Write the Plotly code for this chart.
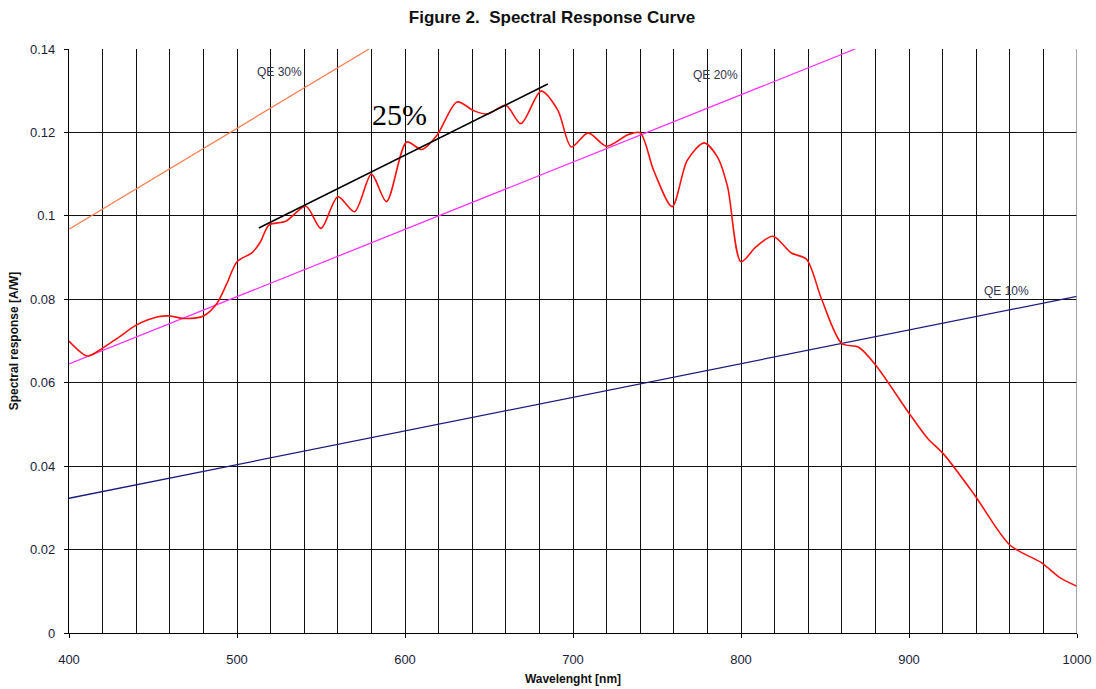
import plotly.graph_objects as go

# Measured spectral response (A/W) vs wavelength (nm)
wavelength = [400, 411, 420, 430, 440, 453, 460, 468, 480, 488, 494, 500, 509, 514, 519,
              529, 541, 550, 560, 570, 580, 589, 601, 610, 619, 631, 641, 649, 660, 669,
              681, 691, 699, 709, 720, 733, 740, 748, 759, 768, 778, 786, 792, 800, 809,
              819, 830, 839, 848, 860, 870, 880, 900, 911, 921, 939, 960, 979, 990, 1000]
response = [0.0700, 0.0664, 0.0683, 0.0710, 0.0738, 0.0758, 0.0760, 0.0754, 0.0760, 0.0790,
            0.0838, 0.0890, 0.0912, 0.0938, 0.0978, 0.0987, 0.1023, 0.0970, 0.1046, 0.1010,
            0.1100, 0.1034, 0.1177, 0.1159, 0.1193, 0.1273, 0.1252, 0.1244, 0.1265, 0.1221,
            0.1299, 0.1253, 0.1165, 0.1199, 0.1167, 0.1195, 0.1199, 0.1109, 0.1022, 0.1133,
            0.1175, 0.1141, 0.1070, 0.0890, 0.0926, 0.0951, 0.0911, 0.0896, 0.0800, 0.0694,
            0.0685, 0.0643, 0.0527, 0.0467, 0.0427, 0.0331, 0.0211, 0.0168, 0.0132, 0.0112]

# Constant-QE reference lines (end points)
qe30_x = [400, 578.6]
qe30_y = [0.0968, 0.1400]
qe20_x = [400, 868]
qe20_y = [0.0645, 0.1400]
qe10_x = [400, 1000]
qe10_y = [0.0323, 0.0807]

# Hand-drawn 25% line
line25_x = [513, 685]
line25_y = [0.0971, 0.1316]

x_ticks = [400, 500, 600, 700, 800, 900, 1000]
y_ticks = [0, 0.02, 0.04, 0.06, 0.08, 0.1, 0.12, 0.14]
y_ticklabels = ["0", "0.02", "0.04", "0.06", "0.08", "0.1", "0.12", "0.14"]

fig = go.Figure()
fig.add_trace(go.Scatter(x=qe30_x, y=qe30_y, mode="lines",
                         line=dict(color="#ff7f50", width=1.3), showlegend=False))
fig.add_trace(go.Scatter(x=qe20_x, y=qe20_y, mode="lines",
                         line=dict(color="#ff33ff", width=1.3), showlegend=False))
fig.add_trace(go.Scatter(x=qe10_x, y=qe10_y, mode="lines",
                         line=dict(color="#1a1a80", width=1.3), showlegend=False))
fig.add_trace(go.Scatter(x=wavelength, y=response, mode="lines",
                         line=dict(color="#ff1010", width=1.6, shape="spline", smoothing=0.8),
                         showlegend=False))
fig.add_trace(go.Scatter(x=line25_x, y=line25_y, mode="lines",
                         line=dict(color="black", width=1.6), showlegend=False))

tick_font = dict(family="Liberation Sans, Arial, sans-serif", size=13, color="#1c1c3a")
title_font = dict(family="Liberation Sans, Arial, sans-serif", size=12, color="#111111", weight="bold")

fig.update_layout(
    width=1096, height=689,
    margin=dict(l=69, r=19, t=49, b=56, autoexpand=False),
    paper_bgcolor="white", plot_bgcolor="white",
    title=dict(text="Figure 2.  Spectral Response Curve", x=552 / 1096, xanchor="center",
               y=1 - 17 / 689, yanchor="middle", xref="container", yref="container",
               automargin=False,
               font=dict(family="Liberation Sans, Arial, sans-serif", size=17,
                         color="#111111", weight="bold")),
    xaxis=dict(range=[400, 1000], tickvals=x_ticks, ticks="outside", ticklen=4,
               tickcolor="black", showline=True, linecolor="black", linewidth=1.3,
               showgrid=True, gridcolor="#111111", gridwidth=1.3, zeroline=False,
               minor=dict(dtick=20, tick0=400, showgrid=True, gridcolor="#111111",
                          gridwidth=1.3, ticks=""),
               tickfont=tick_font, ticklabelstandoff=10, automargin=False,
               title=dict(text="Wavelenght [nm]", font=title_font, standoff=8)),
    yaxis=dict(range=[0, 0.14], tickvals=y_ticks, ticktext=y_ticklabels,
               ticks="outside", ticklen=4, tickcolor="black",
               showline=True, linecolor="black", linewidth=1.3,
               showgrid=True, gridcolor="#111111", gridwidth=1.3, zeroline=False,
               tickfont=tick_font, ticklabelstandoff=6, automargin=False,
               title=dict(text="Spectral response [A/W]", font=title_font, standoff=8)),
)

# right border in grey
fig.add_shape(type="line", xref="x", yref="paper", x0=1000, x1=1000, y0=0, y1=1,
              line=dict(color="#8a8a8a", width=1.5), layer="above")

lab_font = dict(family="Liberation Sans, Arial, sans-serif", size=12, color="#33334d")
fig.add_annotation(x=525, y=0.1344, text="QE 30%", showarrow=False, font=lab_font)
fig.add_annotation(x=785, y=0.1337, text="QE 20%", showarrow=False, font=lab_font)
fig.add_annotation(x=958, y=0.0820, text="QE 10%", showarrow=False, font=lab_font)
fig.add_annotation(x=597, y=0.1244, text="25%", showarrow=False,
                   font=dict(family="Liberation Serif, Times New Roman, serif", size=30,
                             color="black"))

fig.write_html("out.html")
